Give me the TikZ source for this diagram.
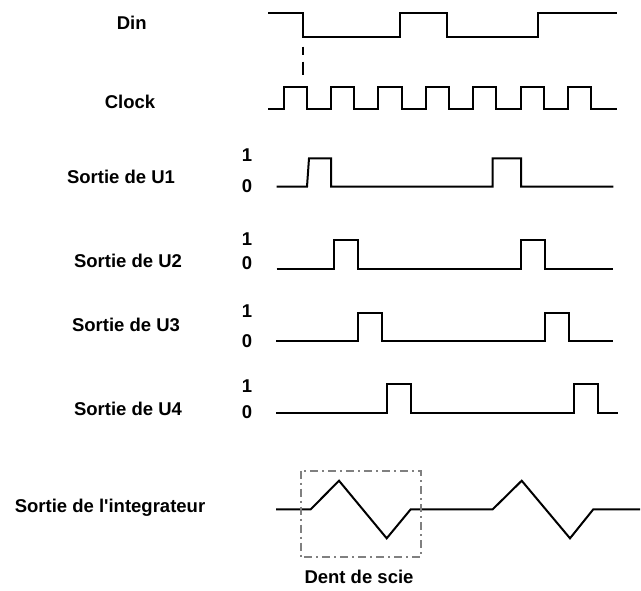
\documentclass[tikz,border=0pt]{standalone}
\usepackage{fontspec}
\setmainfont{Liberation Sans}
\begin{document}
\begin{tikzpicture}[x=0.5pt,y=-0.5pt,
  signal/.style={line width=1pt,line join=miter},
  lbl/.style={font=\fontsize{9.25}{11}\selectfont\bfseries,inner sep=0pt},
  sawbox/.style={draw=gray,line width=1pt,dash pattern=on 4pt off 2pt on 1pt off 2pt}]
  \useasboundingbox (0,0) rectangle (641,590);
  % Signal names
  \node[lbl] (din) at (131.7,23) {Din};
  \node[lbl] (clk) at (130,102) {Clock};
  \node[lbl] (u1) at (121,177) {Sortie de U1};
  \node[lbl] (u2) at (128,261) {Sortie de U2};
  \node[lbl] (u3) at (126,325) {Sortie de U3};
  \node[lbl] (u4) at (128,409) {Sortie de U4};
  \node[lbl] (integ) at (110,508) {Sortie de l\textquotesingle integrateur};
  % Logic levels
  \node[lbl] (one1) at (247,155) {1};
  \node[lbl] (zero1) at (247,186) {0};
  \node[lbl] (one2) at (247,239) {1};
  \node[lbl] (zero2) at (247,263) {0};
  \node[lbl] (one3) at (247,311) {1};
  \node[lbl] (zero3) at (247,341) {0};
  \node[lbl] (one4) at (247,386) {1};
  \node[lbl] (zero4) at (247,412) {0};
  % Din
  \draw[signal] (268,13.3) -- (303.3,13.3) -- (303.3,36.7) -- (400,36.7) -- (400,13.3)
    -- (446.7,13.3) -- (446.7,36.7) -- (538.3,36.7) -- (538.3,13.3) -- (616.7,13.3);
  \draw[signal,dash pattern=on 4pt off 3.5pt on 6.5pt off 2pt] (303.3,46.7) -- (303.3,75);
  % Clock
  \draw[signal] (268,109.3) foreach \k in {0,...,6} {
      -- (283.5+47.4*\k,109.3) -- ++(0,-22.6) -- ++(23.3,0) -- ++(0,22.6) }
    -- (616.7,109.3);
  % Sortie de U1
  \draw[signal] (276.7,186.7) -- (307,186.7) -- (309,158.3) -- (331,158.3) -- (331,186.7)
    -- (492.7,186.7) -- (492.7,158.3) -- (521,158.3) -- (521,186.7) -- (613.3,186.7);
  % Sortie de U2
  \draw[signal] (276.7,269) -- (334,269) -- (334,240) -- (358.3,240) -- (358.3,269)
    -- (520.7,269) -- (520.7,240) -- (545.3,240) -- (545.3,269) -- (613.3,269);
  % Sortie de U3
  \draw[signal] (276,341) -- (357.7,341) -- (357.7,312.7) -- (381.7,312.7) -- (381.7,341)
    -- (545.3,341) -- (545.3,312.7) -- (569.3,312.7) -- (569.3,341) -- (613.3,341);
  % Sortie de U4
  \draw[signal] (276,413.3) -- (386.7,413.3) -- (386.7,384.3) -- (410.7,384.3) -- (410.7,413.3)
    -- (574,413.3) -- (574,384.3) -- (598.3,384.3) -- (598.3,413.3) -- (618.3,413.3);
  % Integrator output
  \draw[signal] (276,509.3) -- (310.7,509.3) -- (339,480.7) -- (386.7,538.3) -- (410.7,509.3)
    -- (492.7,509.3) -- (521.7,480.7) -- (570,538.3) -- (593.3,509.3) -- (640,509.3);
  % Sawtooth frame
  \draw[sawbox] (300.7,470.7) rectangle (420.7,557.3);
  \node[lbl] (dent) at (359,577) {Dent de scie};
\end{tikzpicture}
\end{document}
